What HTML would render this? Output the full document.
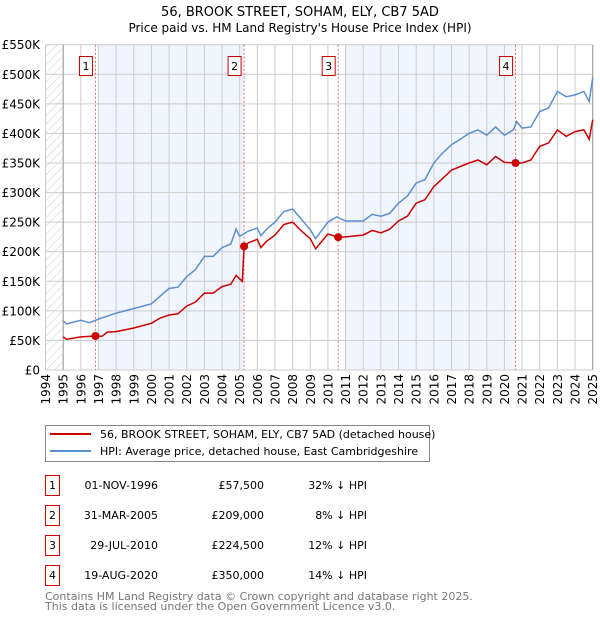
<!DOCTYPE html>
<html><head><meta charset="utf-8"><style>
body{margin:0;background:#fff;font-family:"DejaVu Sans","Liberation Sans",sans-serif;}
svg text{font-family:"DejaVu Sans","Liberation Sans",sans-serif;}
</style></head><body>
<svg id="chart" width="600" height="620" xmlns="http://www.w3.org/2000/svg">
<defs><pattern id="hatch" width="6" height="6" patternUnits="userSpaceOnUse" patternTransform="rotate(45)"><line x1="0" y1="0" x2="0" y2="6" stroke="#ccc" stroke-width="1"/></pattern></defs>
<text x="300" y="16" text-anchor="middle" font-size="13">56, BROOK STREET, SOHAM, ELY, CB7 5AD</text>
<text x="300" y="32" text-anchor="middle" font-size="12">Price paid vs. HM Land Registry's House Price Index (HPI)</text>
<g id="plot"></g>
<g>
<rect x="45.5" y="425.5" width="384" height="36" fill="#fff" stroke="#888"/>
<line x1="50" y1="434" x2="91" y2="434" stroke="#cc0000" stroke-width="2"/>
<text x="100" y="438" font-size="11">56, BROOK STREET, SOHAM, ELY, CB7 5AD (detached house)</text>
<line x1="50" y1="451" x2="91" y2="451" stroke="#5b8fd0" stroke-width="2"/>
<text x="100" y="455" font-size="11">HPI: Average price, detached house, East Cambridgeshire</text>
</g>
<g id="table"></g>
<text x="45" y="600" font-size="11" fill="#777">Contains HM Land Registry data © Crown copyright and database right 2025.</text>
<text x="45" y="610" font-size="11" fill="#777">This data is licensed under the Open Government Licence v3.0.</text>
</svg>
<script>
const hpiT=[1995,1995.2,1996,1996.5,1997,1998,1999,2000,2000.5,2001,2001.5,2002,2002.5,2003,2003.5,2004,2004.5,2004.8,2005,2005.5,2006,2006.2,2006.5,2007,2007.5,2008,2008.5,2009,2009.3,2010,2010.5,2011,2012,2012.5,2013,2013.5,2014,2014.5,2015,2015.5,2016,2016.5,2017,2017.5,2018,2018.5,2019,2019.5,2020,2020.5,2020.7,2021,2021.5,2022,2022.5,2023,2023.5,2024,2024.5,2024.8,2025];
const hpiV=[83,78,84,80,86,96,104,112,125,138,140,158,170,192,192,207,213,238,226,235,240,227,237,250,268,272,255,237,222,250,259,252,252,263,260,265,282,294,316,322,350,367,381,390,400,406,397,411,397,406,420,409,411,437,443,471,462,465,471,454,494];
const ppT=[1995,1995.2,1996,1996.83,1997.2,1997.5,1998,1999,2000,2000.5,2001,2001.5,2002,2002.5,2003,2003.5,2004,2004.5,2004.8,2005.15,2005.25,2005.5,2006,2006.2,2006.5,2007,2007.5,2008,2008.5,2009,2009.3,2010,2010.58,2011,2012,2012.5,2013,2013.5,2014,2014.5,2015,2015.5,2016,2016.5,2017,2017.5,2018,2018.5,2019,2019.5,2020,2020.63,2021,2021.5,2022,2022.5,2023,2023.5,2024,2024.5,2024.8,2025];
const ppV=[56,52,56,57.5,57,64,65,71,79,88,93,95,108,115,130,130,141,145,160,150,209,215,221,207,217,228,246,250,235,222,205,230,224.5,225,228,236,232,238,252,260,282,288,310,324,338,344,350,355,347,361,351,350,350,355,378,384,406,395,403,406,390,423];
const saleLabels=["1","2","3","4"];
const saleT=[1996.83,2005.25,2010.58,2020.63];
const saleV=[57.5,209,224.5,350];
const saleDates=["01-NOV-1996","31-MAR-2005","29-JUL-2010","19-AUG-2020"];
const salePrices=["£57,500","£209,000","£224,500","£350,000"];
const saleDiffs=["32% ↓ HPI","8% ↓ HPI","12% ↓ HPI","14% ↓ HPI"];
const yTicks=[0,50,100,150,200,250,300,350,400,450,500,550];
const yTickLabels=["£0","£50K","£100K","£150K","£200K","£250K","£300K","£350K","£400K","£450K","£500K","£550K"];
const years=[];for(let y=1994;y<=2025;y++)years.push(y);

const NS="http://www.w3.org/2000/svg";
const X0=45.5,X1=592.7,Y0=370,Y1=44.7;
const xs=t=>X0+(t-1994)/(2025-1994)*(X1-X0);
const ys=v=>Y0-v/550*(Y0-Y1);
const plot=document.getElementById('plot');
function mk(tag,attrs,parent){const e=document.createElementNS(NS,tag);for(const k in attrs)e.setAttribute(k,attrs[k]);(parent||plot).appendChild(e);return e;}

mk('rect',{x:X0,y:Y1,width:X1-X0,height:Y0-Y1,fill:'#fff'});
let r=mk('rect',{x:X0,y:Y1,width:xs(1995)-X0,height:Y0-Y1,fill:'url(#hatch)'});


r=mk('rect',{x:xs(1997),y:Y1,width:xs(saleT[1])-xs(1997),height:Y0-Y1,fill:'#eef3fc',opacity:0.8});


r=mk('rect',{x:xs(2011),y:Y1,width:xs(saleT[3])-xs(2011),height:Y0-Y1,fill:'#eef3fc',opacity:0.8});



yTicks.forEach((v,i)=>{
 mk('line',{x1:X0,x2:X1,y1:ys(v),y2:ys(v),stroke:'#ccc','stroke-width':1});
 const t=mk('text',{x:40,y:ys(v)+4.5,'text-anchor':'end','font-size':12});
 t.textContent=yTickLabels[i];
 
 
});
years.forEach(y=>{
 mk('line',{x1:xs(y),x2:xs(y),y1:Y1,y2:Y0,stroke:'#ccc','stroke-width':1});
 const t=mk('text',{x:0,y:0,'text-anchor':'end','font-size':12,transform:`translate(${xs(y)+4.5},374) rotate(-90)`});
 t.textContent=y;
 
 
});
mk('line',{x1:xs(1995),x2:xs(1995),y1:Y1,y2:Y0,stroke:'#999'});
mk('line',{x1:X1,x2:X1,y1:Y1,y2:Y0,stroke:'#999'});

saleT.forEach((t,i)=>{
 const l=mk('line',{x1:xs(t),x2:xs(t),y1:Y1,y2:Y0,stroke:'#e66','stroke-width':1,'stroke-dasharray':'2,2'});
 
 
 const b=mk('rect',{x:xs(t)-16,y:56.5,width:13,height:19,fill:'#fff',stroke:'#cc0000'});
 
 
 const tx=mk('text',{x:xs(t)-9.5,y:70,'text-anchor':'middle','font-size':11});
 tx.textContent=saleLabels[i];
});

function line(T,V,color,name){
 const p=mk('path',{d:T.map((t,i)=>(i?'L':'M')+xs(t).toFixed(1)+','+ys(V[i]).toFixed(1)).join(''),fill:'none',stroke:color,'stroke-width':1.5});
 
 
}
line(hpiT,hpiV,'#5b8fd0','hpi-line');
line(ppT,ppV,'#cc0000','price-paid-line');
saleT.forEach((t,i)=>{
 const c=mk('circle',{cx:xs(t),cy:ys(saleV[i]),r:4,fill:'#cc0000'});
 
 
});

const tbl=document.getElementById('table');
saleLabels.forEach((s,i)=>{
 const y=475+i*30;
 const g=mk('g',{},tbl);
 
 
 mk('rect',{x:45.5,y:y+0.5,width:14,height:20,fill:'#fff',stroke:'#cc0000'},g);
 let t=mk('text',{x:52.5,y:y+14,'text-anchor':'middle','font-size':11},g);t.textContent=s;
 t=mk('text',{x:158,y:y+14,'text-anchor':'end','font-size':11},g);t.textContent=saleDates[i];
 t=mk('text',{x:264,y:y+14,'text-anchor':'end','font-size':11},g);t.textContent=salePrices[i];
 t=mk('text',{x:367,y:y+14,'text-anchor':'end','font-size':11},g);t.textContent=saleDiffs[i];
});
</script>
</body></html>
